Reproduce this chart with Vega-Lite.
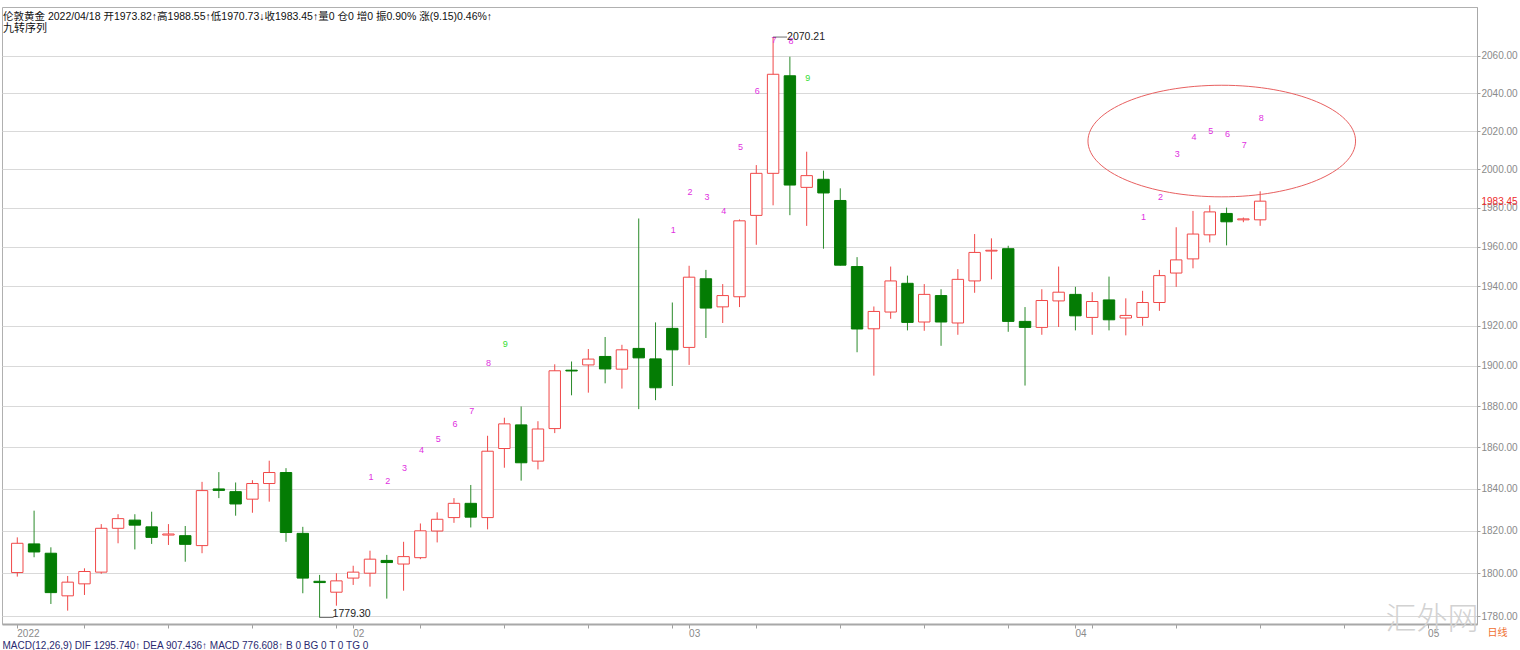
{
  "$schema": "https://vega.github.io/schema/vega-lite/v6.json",
  "width": 1475,
  "height": 617,
  "autosize": "none",
  "padding": {"left": 2, "top": 7, "right": 43, "bottom": 26},
  "background": "white",
  "config": {"view": {"stroke": "#b0b0b0"}, "font": "Liberation Sans, Noto Sans CJK SC"},
  "title": {
    "text": "伦敦黄金 2022/04/18  开1973.82↑高1988.55↑低1970.73↓收1983.45↑量0   仓0  增0 振0.90%  涨(9.15)0.46%↑",
    "subtitle": "九转序列",
    "anchor": "start",
    "font": "Liberation Sans, Noto Sans CJK SC",
    "subtitleFont": "Noto Sans CJK SC",
    "fontSize": 10.5,
    "subtitleFontSize": 11,
    "fontWeight": "normal",
    "color": "#111111",
    "subtitleColor": "#111111",
    "subtitlePadding": 1,
    "offset": -27,
    "dx": 1
  },
  "datasets": {
    "k": [
      {"d": "2022-01-04", "o": 1800.3, "h": 1816.9, "l": 1798.4, "c": 1814.1},
      {"d": "2022-01-05", "o": 1813.8, "h": 1829.6, "l": 1807.5, "c": 1810.0},
      {"d": "2022-01-06", "o": 1809.4, "h": 1812.2, "l": 1785.6, "c": 1790.9},
      {"d": "2022-01-07", "o": 1789.4, "h": 1798.7, "l": 1782.5, "c": 1795.8},
      {"d": "2022-01-10", "o": 1795.0, "h": 1802.3, "l": 1789.8, "c": 1800.8},
      {"d": "2022-01-11", "o": 1800.5, "h": 1823.2, "l": 1799.7, "c": 1821.2},
      {"d": "2022-01-12", "o": 1821.2, "h": 1827.9, "l": 1814.1, "c": 1825.8},
      {"d": "2022-01-13", "o": 1825.1, "h": 1827.9, "l": 1811.2, "c": 1822.7},
      {"d": "2022-01-14", "o": 1821.9, "h": 1829.1, "l": 1813.8, "c": 1816.9},
      {"d": "2022-01-17", "o": 1818.0, "h": 1823.2, "l": 1813.3, "c": 1818.5},
      {"d": "2022-01-18", "o": 1817.7, "h": 1822.3, "l": 1805.4, "c": 1813.6},
      {"d": "2022-01-19", "o": 1813.0, "h": 1843.4, "l": 1809.4, "c": 1839.2},
      {"d": "2022-01-20", "o": 1840.0, "h": 1848.1, "l": 1835.6, "c": 1839.3},
      {"d": "2022-01-21", "o": 1838.7, "h": 1843.1, "l": 1827.2, "c": 1832.8},
      {"d": "2022-01-24", "o": 1835.1, "h": 1844.2, "l": 1828.6, "c": 1842.6},
      {"d": "2022-01-25", "o": 1842.6, "h": 1853.6, "l": 1833.9, "c": 1847.9},
      {"d": "2022-01-26", "o": 1847.9, "h": 1850.0, "l": 1814.8, "c": 1819.2},
      {"d": "2022-01-27", "o": 1818.8, "h": 1821.9, "l": 1790.6, "c": 1797.7},
      {"d": "2022-01-28", "o": 1796.2, "h": 1799.2, "l": 1779.3, "c": 1795.6},
      {"d": "2022-01-31", "o": 1791.1, "h": 1800.0, "l": 1784.8, "c": 1796.4},
      {"d": "2022-02-01", "o": 1797.7, "h": 1803.5, "l": 1794.5, "c": 1800.5},
      {"d": "2022-02-02", "o": 1800.0, "h": 1810.6, "l": 1793.7, "c": 1806.6},
      {"d": "2022-02-03", "o": 1806.0, "h": 1808.6, "l": 1788.1, "c": 1805.0},
      {"d": "2022-02-04", "o": 1804.3, "h": 1814.8, "l": 1791.8, "c": 1807.8},
      {"d": "2022-02-07", "o": 1807.3, "h": 1823.5, "l": 1806.6, "c": 1820.0},
      {"d": "2022-02-08", "o": 1819.9, "h": 1828.8, "l": 1814.5, "c": 1825.5},
      {"d": "2022-02-09", "o": 1826.3, "h": 1835.6, "l": 1823.8, "c": 1833.1},
      {"d": "2022-02-10", "o": 1833.1, "h": 1841.9, "l": 1821.6, "c": 1826.5},
      {"d": "2022-02-11", "o": 1826.3, "h": 1865.7, "l": 1820.7, "c": 1858.2},
      {"d": "2022-02-14", "o": 1859.5, "h": 1874.5, "l": 1850.2, "c": 1871.5},
      {"d": "2022-02-15", "o": 1871.0, "h": 1880.0, "l": 1844.0, "c": 1852.6},
      {"d": "2022-02-16", "o": 1853.4, "h": 1872.8, "l": 1849.4, "c": 1869.0},
      {"d": "2022-02-17", "o": 1869.2, "h": 1900.8, "l": 1867.0, "c": 1897.6},
      {"d": "2022-02-18", "o": 1897.9, "h": 1902.2, "l": 1885.5, "c": 1897.5},
      {"d": "2022-02-21", "o": 1900.5, "h": 1908.4, "l": 1886.8, "c": 1903.4},
      {"d": "2022-02-22", "o": 1904.7, "h": 1914.4, "l": 1891.4, "c": 1898.5},
      {"d": "2022-02-23", "o": 1898.4, "h": 1910.5, "l": 1888.8, "c": 1908.0},
      {"d": "2022-02-24", "o": 1908.7, "h": 1974.5, "l": 1878.7, "c": 1904.0},
      {"d": "2022-02-25", "o": 1903.5, "h": 1921.7, "l": 1883.1, "c": 1889.2},
      {"d": "2022-02-28", "o": 1918.7, "h": 1931.7, "l": 1890.1, "c": 1908.0},
      {"d": "2022-03-01", "o": 1909.2, "h": 1950.3, "l": 1900.5, "c": 1944.5},
      {"d": "2022-03-02", "o": 1943.7, "h": 1948.2, "l": 1913.9, "c": 1928.9},
      {"d": "2022-03-03", "o": 1929.5, "h": 1941.0, "l": 1921.4, "c": 1935.2},
      {"d": "2022-03-04", "o": 1934.6, "h": 1974.0, "l": 1929.4, "c": 1973.3},
      {"d": "2022-03-07", "o": 1976.1, "h": 2002.2, "l": 1961.0, "c": 1997.9},
      {"d": "2022-03-08", "o": 1997.9, "h": 2070.21, "l": 1981.3, "c": 2050.2},
      {"d": "2022-03-09", "o": 2049.4, "h": 2059.6, "l": 1976.2, "c": 1991.8},
      {"d": "2022-03-10", "o": 1990.6, "h": 2009.2, "l": 1970.7, "c": 1996.7},
      {"d": "2022-03-11", "o": 1994.8, "h": 1999.3, "l": 1959.0, "c": 1987.7},
      {"d": "2022-03-14", "o": 1983.8, "h": 1990.1, "l": 1950.4, "c": 1950.6},
      {"d": "2022-03-15", "o": 1949.9, "h": 1954.7, "l": 1906.8, "c": 1918.4},
      {"d": "2022-03-16", "o": 1918.5, "h": 1929.7, "l": 1895.2, "c": 1927.2},
      {"d": "2022-03-17", "o": 1926.9, "h": 1949.9, "l": 1923.5, "c": 1942.6},
      {"d": "2022-03-18", "o": 1941.4, "h": 1945.3, "l": 1917.7, "c": 1921.7},
      {"d": "2022-03-21", "o": 1921.9, "h": 1941.0, "l": 1917.5, "c": 1935.8},
      {"d": "2022-03-22", "o": 1935.2, "h": 1938.4, "l": 1910.0, "c": 1921.9},
      {"d": "2022-03-23", "o": 1921.4, "h": 1948.6, "l": 1915.5, "c": 1943.4},
      {"d": "2022-03-24", "o": 1942.6, "h": 1966.5, "l": 1936.6, "c": 1957.1},
      {"d": "2022-03-25", "o": 1957.8, "h": 1964.3, "l": 1943.4, "c": 1958.2},
      {"d": "2022-03-28", "o": 1959.0, "h": 1960.5, "l": 1917.0, "c": 1922.2},
      {"d": "2022-03-29", "o": 1922.2, "h": 1929.4, "l": 1890.3, "c": 1919.2},
      {"d": "2022-03-30", "o": 1919.2, "h": 1938.4, "l": 1915.5, "c": 1932.7},
      {"d": "2022-03-31", "o": 1932.5, "h": 1949.9, "l": 1919.4, "c": 1936.9},
      {"d": "2022-04-01", "o": 1935.8, "h": 1939.6, "l": 1917.7, "c": 1925.0},
      {"d": "2022-04-04", "o": 1924.2, "h": 1936.9, "l": 1915.5, "c": 1932.2},
      {"d": "2022-04-05", "o": 1933.0, "h": 1944.8, "l": 1917.7, "c": 1923.0},
      {"d": "2022-04-06", "o": 1923.9, "h": 1933.8, "l": 1915.2, "c": 1925.2},
      {"d": "2022-04-07", "o": 1924.2, "h": 1937.6, "l": 1920.0, "c": 1931.7},
      {"d": "2022-04-08", "o": 1931.7, "h": 1948.2, "l": 1927.5, "c": 1945.3},
      {"d": "2022-04-11", "o": 1946.6, "h": 1970.0, "l": 1939.6, "c": 1953.3},
      {"d": "2022-04-12", "o": 1953.8, "h": 1978.4, "l": 1949.0, "c": 1966.5},
      {"d": "2022-04-13", "o": 1966.1, "h": 1981.3, "l": 1962.2, "c": 1977.9},
      {"d": "2022-04-14", "o": 1977.1, "h": 1980.1, "l": 1960.7, "c": 1972.8},
      {"d": "2022-04-15", "o": 1973.8, "h": 1975.0, "l": 1972.6, "c": 1974.3},
      {"d": "2022-04-18", "o": 1973.82, "h": 1988.55, "l": 1970.73, "c": 1983.45}
    ],
    "nine": [
      {"d": "2022-02-02", "p": 1845.9, "n": 1},
      {"d": "2022-02-03", "p": 1843.8, "n": 2},
      {"d": "2022-02-04", "p": 1850.1, "n": 3},
      {"d": "2022-02-07", "p": 1858.6, "n": 4},
      {"d": "2022-02-08", "p": 1864.0, "n": 5},
      {"d": "2022-02-09", "p": 1871.3, "n": 6},
      {"d": "2022-02-10", "p": 1877.8, "n": 7},
      {"d": "2022-02-11", "p": 1901.3, "n": 8},
      {"d": "2022-02-14", "p": 1910.7, "n": 9},
      {"d": "2022-02-28", "p": 1968.6, "n": 1},
      {"d": "2022-03-01", "p": 1988.2, "n": 2},
      {"d": "2022-03-02", "p": 1985.6, "n": 3},
      {"d": "2022-03-03", "p": 1978.5, "n": 4},
      {"d": "2022-03-04", "p": 2011.8, "n": 5},
      {"d": "2022-03-07", "p": 2041.3, "n": 6},
      {"d": "2022-03-08", "p": 2068.6, "n": 7},
      {"d": "2022-03-09", "p": 2068.1, "n": 8},
      {"d": "2022-03-10", "p": 2048.4, "n": 9},
      {"d": "2022-04-07", "p": 1975.1, "n": 1},
      {"d": "2022-04-08", "p": 1985.8, "n": 2},
      {"d": "2022-04-11", "p": 2007.8, "n": 3},
      {"d": "2022-04-12", "p": 2016.9, "n": 4},
      {"d": "2022-04-13", "p": 2020.1, "n": 5},
      {"d": "2022-04-14", "p": 2018.5, "n": 6},
      {"d": "2022-04-15", "p": 2012.9, "n": 7},
      {"d": "2022-04-18", "p": 2027.1, "n": 8}
    ]
  },
  "encoding": {
    "x": {
      "field": "d",
      "type": "ordinal",
      "scale": {
        "type": "band",
        "paddingInner": 0,
        "paddingOuter": 0.41,
        "domain": ["2022-01-04","2022-01-05","2022-01-06","2022-01-07","2022-01-10","2022-01-11","2022-01-12","2022-01-13","2022-01-14","2022-01-17","2022-01-18","2022-01-19","2022-01-20","2022-01-21","2022-01-24","2022-01-25","2022-01-26","2022-01-27","2022-01-28","2022-01-31",
                   "2022-02-01","2022-02-02","2022-02-03","2022-02-04","2022-02-07","2022-02-08","2022-02-09","2022-02-10","2022-02-11","2022-02-14","2022-02-15","2022-02-16","2022-02-17","2022-02-18","2022-02-21","2022-02-22","2022-02-23","2022-02-24","2022-02-25","2022-02-28",
                   "2022-03-01","2022-03-02","2022-03-03","2022-03-04","2022-03-07","2022-03-08","2022-03-09","2022-03-10","2022-03-11","2022-03-14","2022-03-15","2022-03-16","2022-03-17","2022-03-18","2022-03-21","2022-03-22","2022-03-23","2022-03-24","2022-03-25","2022-03-28","2022-03-29","2022-03-30","2022-03-31",
                   "2022-04-01","2022-04-04","2022-04-05","2022-04-06","2022-04-07","2022-04-08","2022-04-11","2022-04-12","2022-04-13","2022-04-14","2022-04-15","2022-04-18","2022-04-19","2022-04-20","2022-04-21","2022-04-22","2022-04-25","2022-04-26","2022-04-27","2022-04-28","2022-04-29",
                   "2022-05-02","2022-05-03","2022-05-04"]
      },
      "axis": {
        "values": ["2022-01-04","2022-01-10","2022-01-17","2022-01-24","2022-01-31","2022-02-01","2022-02-07","2022-02-14","2022-02-21","2022-02-28","2022-03-01","2022-03-07","2022-03-14","2022-03-21","2022-03-28","2022-04-01","2022-04-04","2022-04-11","2022-04-18","2022-04-25","2022-05-02"],
        "labelExpr": "datum.value == '2022-01-04' ? '2022' : datum.value == '2022-02-01' ? '02' : datum.value == '2022-03-01' ? '03' : datum.value == '2022-04-01' ? '04' : datum.value == '2022-05-02' ? '05' : ''",
        "bandPosition": 0.5,
        "labelAngle": 0,
        "labelAlign": "left",
        "labelBaseline": "top",
        "labelPadding": 0,
        "labelColor": "#8a8a8a",
        "labelFontSize": 10,
        "labelOverlap": false,
        "labelBound": false,
        "labelFlush": false,
        "tickSize": 4,
        "tickColor": "#a0a0a0",
        "domainColor": "#a8a8a8",
        "domainWidth": 2,
        "grid": false,
        "title": "MACD(12,26,9)  DIF 1295.740↑  DEA 907.436↑  MACD 776.608↑  B 0  BG 0  T 0  TG 0",
        "titleX": 0,
        "titleY": 21,
        "titleAlign": "left",
        "titleBaseline": "middle",
        "titleFontSize": 10,
        "titleFontWeight": "normal",
        "titleColor": "#2a2a70"
      }
    }
  },
  "layer": [
    {
      "data": {"name": "k"},
      "mark": {"type": "rule", "strokeWidth": 1},
      "encoding": {
        "y": {
          "field": "l",
          "type": "quantitative",
          "scale": {"type": "log", "domain": [1776.3, 2086.5], "nice": false, "zero": false},
          "axis": {
            "orient": "right",
            "values": [1780, 1800, 1820, 1840, 1860, 1880, 1900, 1920, 1940, 1960, 1980, 2000, 2020, 2040, 2060, 1983.45],
            "format": ".2f",
            "labelColor": {"condition": {"test": "datum.value == 1983.45", "value": "#ee2a2a"}, "value": "#8a8a8a"},
            "gridColor": {"condition": {"test": "datum.value == 1983.45", "value": "transparent"}, "value": "#d9d9d9"},
            "tickColor": {"condition": {"test": "datum.value == 1983.45", "value": "transparent"}, "value": "#a0a0a0"},
            "grid": true,
            "tickSize": 3,
            "labelPadding": 1,
            "labelFontSize": 10,
            "labelOverlap": false,
            "labelBound": false,
            "labelFlush": false,
            "domainColor": "#a8a8a8",
            "title": "日线",
            "titleAngle": 0,
            "titleX": 20,
            "titleY": 625,
            "titleAlign": "center",
            "titleBaseline": "middle",
            "titleFontSize": 10,
            "titleFontWeight": "normal",
            "titleColor": "#f07030",
            "titleFont": "Noto Sans CJK SC"
          }
        },
        "y2": {"field": "h"},
        "color": {"condition": {"test": "datum.c >= datum.o", "value": "#f04848"}, "value": "#2a8a2a"}
      }
    },
    {
      "data": {"name": "k"},
      "mark": {"type": "bar", "width": {"band": 0.68}, "strokeWidth": 1},
      "encoding": {
        "y": {"field": "o", "type": "quantitative"},
        "y2": {"field": "c"},
        "fill": {"condition": {"test": "datum.c >= datum.o", "value": "#ffffff"}, "value": "#047c04"},
        "stroke": {"condition": {"test": "datum.c >= datum.o", "value": "#f04848"}, "value": "#047c04"}
      }
    },
    {
      "data": {"name": "nine"},
      "mark": {"type": "text", "fontSize": 9, "font": "Liberation Sans", "dx": 1},
      "encoding": {
        "y": {"field": "p", "type": "quantitative"},
        "text": {"field": "n", "type": "nominal"},
        "color": {"condition": {"test": "datum.n == 9", "value": "#33dd33"}, "value": "#e030e0"}
      }
    },
    {
      "data": {"values": [{"d": "2022-04-14", "p": 2014.8}]},
      "mark": {"type": "point", "shape": "M-1.036,0A1,0.417,0,1,1,0.964,0A1,0.417,0,1,1,-1.036,0Z", "size": 71610, "filled": false, "stroke": "#e86060", "strokeWidth": 1, "opacity": 1},
      "encoding": {
        "y": {"field": "p", "type": "quantitative"}
      }
    },
    {
      "data": {"values": [{"d": "2022-03-08", "p": 2070.21}, {"d": "2022-01-28", "p": 1779.3}]},
      "mark": {"type": "tick", "orient": "horizontal", "size": 14, "thickness": 1, "xOffset": 7, "color": "#333333"},
      "encoding": {"y": {"field": "p", "type": "quantitative"}}
    },
    {
      "data": {"values": [{"d": "2022-03-08", "p": 2070.21, "t": "2070.21"}]},
      "mark": {"type": "text", "align": "left", "baseline": "middle", "dx": 14, "fontSize": 10.5, "color": "#222222"},
      "encoding": {"y": {"field": "p", "type": "quantitative"}, "text": {"field": "t"}}
    },
    {
      "data": {"values": [{"d": "2022-01-28", "p": 1779.3, "t": "1779.30"}]},
      "mark": {"type": "text", "align": "left", "baseline": "bottom", "dx": 13, "dy": 1, "fontSize": 10.5, "color": "#222222"},
      "encoding": {"y": {"field": "p", "type": "quantitative"}, "text": {"field": "t"}}
    },
    {
      "data": {"values": [{"d": "2022-05-02", "p": 1778, "t": "汇外网"}]},
      "mark": {"type": "text", "fontSize": 31, "font": "Noto Sans CJK SC", "fontWeight": 300, "color": "#d2d2d2", "align": "center", "baseline": "middle", "dx": 4},
      "encoding": {
        "y": {"field": "p", "type": "quantitative"},
        "text": {"field": "t"}
      }
    }
  ]
}
